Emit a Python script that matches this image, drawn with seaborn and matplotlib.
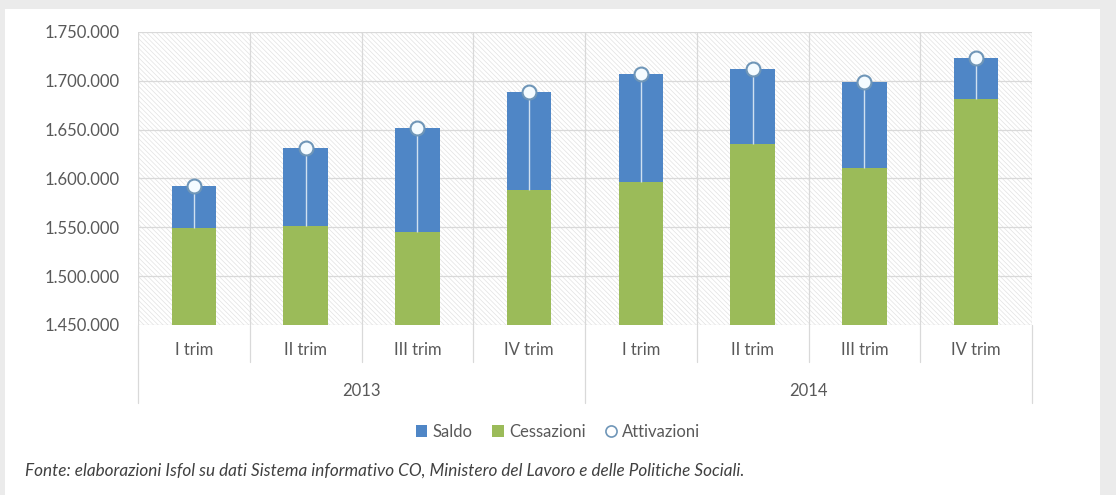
import numpy as np
import pandas as pd
import matplotlib
matplotlib.use('Agg')
import matplotlib.pyplot as plt
import matplotlib.transforms as mtransforms
from matplotlib.patches import Rectangle, Patch
from matplotlib.lines import Line2D
import seaborn as sns

# Dati
trimestri = ['I trim', 'II trim', 'III trim', 'IV trim', 'I trim', 'II trim', 'III trim', 'IV trim']
anni = ['2013', '2014']
attivazioni = [1592600, 1630900, 1651400, 1688600, 1707000, 1711700, 1698800, 1723700]
cessazioni = [1549700, 1551000, 1544900, 1588200, 1596800, 1635300, 1610400, 1681400]

df = pd.DataFrame({'pos': [str(i) for i in range(len(trimestri))],
                   'trim': trimestri,
                   'attivazioni': attivazioni,
                   'cessazioni': cessazioni})

blu = '#4f86c6'
verde = '#9bbb59'
grigio = '#595959'
linea = '#d9d9d9'

sns.set_style('white')
plt.rcParams['font.family'] = ['Lato', 'DejaVu Sans']
plt.rcParams['hatch.linewidth'] = 0.5

fig = plt.figure(figsize=(11.16, 4.95), dpi=100)
fig.patch.set_facecolor('#ebebeb')
fig.patches.append(Rectangle((5 / 1116, 0), 1095 / 1116, 486 / 495, transform=fig.transFigure,
                             facecolor='white', edgecolor='none', zorder=-10))

ax = fig.add_axes([138 / 1116, 1 - 325 / 495, 894 / 1116, 293 / 495])
ax.set_facecolor('white')

# sfondo tratteggiato
ax.add_patch(Rectangle((-0.5, 1450000), 8, 300000, facecolor='white', edgecolor='#e2e2e2',
                       hatch='\\' * 7, linewidth=0, zorder=0))

# Barre: Saldo (totale) e Cessazioni sopra
sns.barplot(data=df, x='pos', y='attivazioni', color=blu, width=0.4, saturation=1,
            ax=ax, zorder=3, edgecolor='none')
sns.barplot(data=df, x='pos', y='cessazioni', color=verde, width=0.4, saturation=1,
            ax=ax, zorder=4, edgecolor='none')

x = np.arange(len(trimestri))
ax.vlines(x, cessazioni, attivazioni, color='#cfe0f0', linewidth=1, zorder=5)
ax.plot(x, attivazioni, 'o', markersize=10, markerfacecolor='#f4fbff',
        markeredgecolor='#6f96b8', markeredgewidth=1.5, zorder=6, clip_on=False)

ax.set_ylim(1450000, 1750000)
ax.set_xlim(-0.5, 7.5)
ax.set_yticks(np.arange(1450000, 1750001, 50000))
ax.set_yticklabels([f'{v:,}'.replace(',', '.') for v in range(1450000, 1750001, 50000)])
ax.set_xticks(x)
ax.set_xticklabels(trimestri)
ax.set_xlabel('')
ax.set_ylabel('')
ax.tick_params(axis='y', length=0, pad=13.5, labelsize=12, labelcolor=grigio)
ax.tick_params(axis='x', length=0, pad=12, labelsize=12, labelcolor=grigio)
for s in ax.spines.values():
    s.set_visible(False)

# griglia
for v in range(1450000, 1750001, 50000):
    ax.axhline(v, color=linea, linewidth=0.9, zorder=1)
for b in np.arange(-0.5, 8, 1):
    ax.axvline(b, color=linea, linewidth=0.9, zorder=1)

# asse a due livelli
trans = mtransforms.blended_transform_factory(ax.transData, ax.transAxes)
for b in np.arange(-0.5, 8, 1):
    fondo = -78 / 293 if b in (-0.5, 3.5, 7.5) else -37 / 293
    ax.plot([b, b], [0, fondo], color=linea, linewidth=0.9, transform=trans, clip_on=False)
for i, anno in enumerate(anni):
    ax.text(1.5 + 4 * i, -66 / 293, anno, transform=trans, ha='center', va='center',
            fontsize=12, color=grigio)

# legenda
handles = [Patch(facecolor=blu, edgecolor='none', label='Saldo'),
           Patch(facecolor=verde, edgecolor='none', label='Cessazioni'),
           Line2D([], [], marker='o', linestyle='none', markersize=8, markerfacecolor='white',
                  markeredgecolor='#6f96b8', markeredgewidth=1.2, label='Attivazioni')]
fig.legend(handles=handles, loc='center', bbox_to_anchor=(0.5, 1 - 432 / 495), ncol=3,
           frameon=False, fontsize=12, labelcolor=grigio, handlelength=0.7, handleheight=0.7,
           handletextpad=0.3, columnspacing=1.2)

fig.text(25 / 1116, 1 - 471 / 495,
         'Fonte: elaborazioni Isfol su dati Sistema informativo CO, Ministero del Lavoro e delle Politiche Sociali.',
         fontsize=12.3, style='italic', color='#404040', va='center', ha='left')

fig.savefig('out.png', dpi=100, facecolor=fig.get_facecolor())
